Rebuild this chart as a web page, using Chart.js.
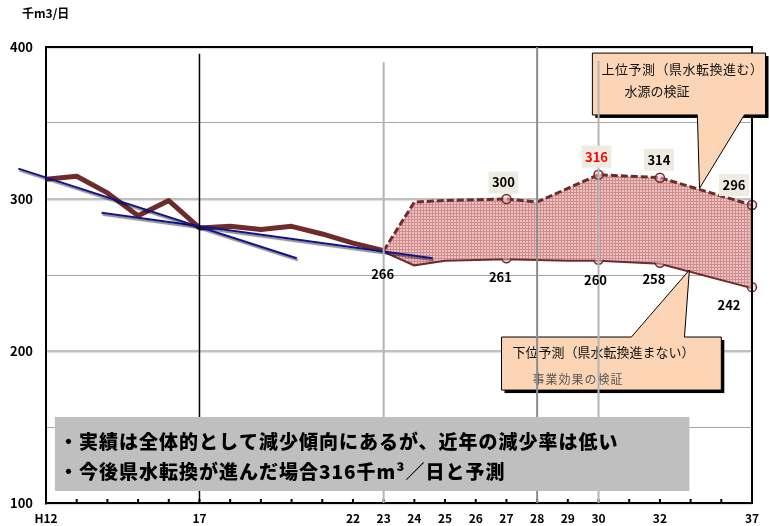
<!DOCTYPE html>
<html lang="ja">
<head>
<meta charset="UTF-8">
<title>水需要の実績と予測</title>
<script src="https://cdn.jsdelivr.net/npm/chart.js"></script>
<style>
  html, body { margin: 0; padding: 0; background: #fff; }
  .wrap { position: relative; width: 770px; height: 526px; }
</style>
</head>
<body>
<div class="wrap"><canvas id="demandChart" width="770" height="526"></canvas></div>
<script>
// 年度 (category index 0..23)
const yearLabels = ['H12','','','','','17','','','','','22','23','24','25','26','27','28','29','30','','32','','','37'];

// 実績 (千m3/日)
const actual = [313, 315, 304, 289, 299, 281, 282, 280, 282, 277, 271, 266];

// 上位予測 / 下位予測 (null = not read, line spans the gap)
const upperForecast = [null, null, null, null, null, null, null, null, null, null, null,
  266, 298, 299, 299.5, 300, 298, 307, 316, 315, 314, null, null, 296];
const lowerForecast = [null, null, null, null, null, null, null, null, null, null, null,
  266, 257, 260, 260.5, 261, 260.5, 260, 260, 259, 258, null, null, 242];

// indices that carry a marker + value label
const markedIdx = [15, 18, 20, 23];

// trend lines (index, value)
const trendLong = [[-0.9, 320], [8.17, 261]];
const trendShort = [[1.81, 291], [12.6, 261]];

const yTicks = { min: 100, max: 400, step: 50 };

const FONT = "'Noto Sans CJK JP', 'Liberation Sans', sans-serif";
const BROWN = '#6e2b2b';
const NAVY = '#12128a';

const toXY = arr => arr.map((v, i) => ({ x: i, y: v }));
const pairXY = arr => arr.map(p => ({ x: p[0], y: p[1] }));

// fine pink grid used for the forecast band
function makeHatch(ctx) {
  const c = document.createElement('canvas');
  c.width = 3; c.height = 3;
  const g = c.getContext('2d');
  g.fillStyle = '#efc2c2';
  g.fillRect(0, 0, 3, 3);
  g.fillStyle = '#cf8c8c';
  g.fillRect(0, 0, 3, 1);
  g.fillRect(0, 0, 1, 3);
  return ctx.createPattern(c, 'repeat');
}

const canvas = document.getElementById('demandChart');
const hatch = makeHatch(canvas.getContext('2d'));

// light drop shadow under the two trend lines
const trendShadow = {
  id: 'trendShadow',
  beforeDatasetDraw(chart, args) {
    if (!chart.data.datasets[args.index].isTrend) return;
    const ctx = chart.ctx;
    ctx.save();
    ctx.shadowColor = 'rgba(0,0,0,0.45)';
    ctx.shadowOffsetX = 1;
    ctx.shadowOffsetY = 2;
    ctx.shadowBlur = 1;
  },
  afterDatasetDraw(chart, args) {
    if (chart.data.datasets[args.index].isTrend) chart.ctx.restore();
  }
};

function callout(ctx, x, y, box, tail, up, lines) {
  const l = x.getPixelForValue(box[0]), r = x.getPixelForValue(box[1]);
  const t = y.getPixelForValue(box[2]), b = y.getPixelForValue(box[3]);
  const ta = x.getPixelForValue(tail[0]), tb = x.getPixelForValue(tail[1]);
  const tx = x.getPixelForValue(tail[2]), ty = y.getPixelForValue(tail[3]);
  ctx.save();
  // hard shadow, right and bottom
  ctx.fillStyle = '#000';
  ctx.fillRect(l + 3, t + 3, r - l, b - t);
  ctx.beginPath();
  if (up) {
    ctx.moveTo(l, t); ctx.lineTo(ta, t); ctx.lineTo(tx, ty); ctx.lineTo(tb, t);
    ctx.lineTo(r, t); ctx.lineTo(r, b); ctx.lineTo(l, b);
  } else {
    ctx.moveTo(l, t); ctx.lineTo(r, t); ctx.lineTo(r, b); ctx.lineTo(tb, b);
    ctx.lineTo(tx, ty); ctx.lineTo(ta, b); ctx.lineTo(l, b);
  }
  ctx.closePath();
  ctx.fillStyle = '#fbd5b5';
  ctx.fill();
  ctx.strokeStyle = '#000';
  ctx.lineWidth = 1;
  ctx.stroke();
  ctx.textBaseline = 'middle';
  ctx.textAlign = 'left';
  lines.forEach(s => {
    ctx.font = s.font;
    ctx.fillStyle = s.color;
    ctx.letterSpacing = s.spacing || '0px';
    ctx.fillText(s.text, l + s.dx, t + s.dy);
  });
  ctx.restore();
}

const overlay = {
  id: 'overlay',
  afterDatasetsDraw(chart) {
    const { ctx, chartArea: a, scales: { x, y } } = chart;
    ctx.save();

    // top and right frame
    ctx.strokeStyle = '#000';
    ctx.lineWidth = 2;
    ctx.beginPath();
    ctx.moveTo(a.left, a.top); ctx.lineTo(a.right, a.top); ctx.lineTo(a.right, a.bottom);
    ctx.stroke();

    // inward tick marks on the year axis
    ctx.lineWidth = 2;
    for (let i = 1; i < yearLabels.length; i++) {
      const px = x.getPixelForValue(i);
      ctx.beginPath(); ctx.moveTo(px, a.bottom); ctx.lineTo(px, a.bottom - 4); ctx.stroke();
    }

    // callouts
    callout(ctx, x, y, [17.8, 23.44, 396, 355.3], [21.22, 22.75, 21.29, 307], false, [
      { text: '上位予測（県水転換進む）', dx: 9, dy: 16, font: `13px ${FONT}`, color: '#111', spacing: '0.5px' },
      { text: '水源の検証', dx: 32, dy: 38, font: `13px ${FONT}`, color: '#111' }
    ]);
    callout(ctx, x, y, [14.84, 22.0, 209.2, 174.3], [19.07, 20.8, 20.96, 253.3], true, [
      { text: '下位予測（県水転換進まない）', dx: 11, dy: 15, font: `13px ${FONT}`, color: '#111' },
      { text: '事業効果の検証', dx: 31, dy: 42, font: `12px ${FONT}`, color: '#555', spacing: '1px' }
    ]);

    // vertical reference lines
    const refs = [
      { i: 5, top: 395.5, color: '#000', w: 1.5 },
      { i: 11, top: 390, color: '#b4b4b4', w: 2 },
      { i: 16, top: 400, color: '#8c8c8c', w: 2 },
      { i: 18, top: 391, color: '#b4b4b4', w: 2 }
    ];
    refs.forEach(r => {
      const px = x.getPixelForValue(r.i);
      ctx.strokeStyle = r.color;
      ctx.lineWidth = r.w;
      ctx.beginPath();
      ctx.moveTo(px, y.getPixelForValue(r.top));
      ctx.lineTo(px, a.bottom);
      ctx.stroke();
    });

    // summary note
    const nl = x.getPixelForValue(0.29), nr = x.getPixelForValue(20.96);
    const nt = y.getPixelForValue(156.6), nb = y.getPixelForValue(107.9);
    ctx.fillStyle = '#bfbfbf';
    ctx.fillRect(nl, nt, nr - nl, nb - nt);
    ctx.fillStyle = '#000';
    ctx.font = `900 19px ${FONT}`;
    ctx.letterSpacing = '1px';
    ctx.textAlign = 'left';
    ctx.textBaseline = 'middle';
    ctx.fillText('・実績は全体的として減少傾向にあるが、近年の減少率は低い', nl + 4, nt + 25);
    ctx.fillText('・今後県水転換が進んだ場合316千m³／日と予測', nl + 4, nt + 55);
    ctx.letterSpacing = '0px';

    // value labels
    ctx.textAlign = 'center';
    ctx.font = `bold 13px ${FONT}`;
    const lowOff = { 11: [-1, 23], 15: [-6, 19], 18: [-3, 20], 20: [-6, 16], 23: [-23, 18] };
    Object.keys(lowOff).forEach(k => {
      const i = +k;
      const px = x.getPixelForValue(i) + lowOff[k][0];
      const py = y.getPixelForValue(lowerForecast[i]) + lowOff[k][1];
      ctx.fillStyle = '#000';
      ctx.fillText(String(lowerForecast[i]), px, py);
    });
    const upOff = { 15: [-3, -16.5], 18: [-2, -18], 20: [-1, -18], 23: [-18, -20] };
    Object.keys(upOff).forEach(k => {
      const i = +k;
      const px = x.getPixelForValue(i) + upOff[k][0];
      const py = y.getPixelForValue(upperForecast[i]) + upOff[k][1];
      ctx.fillStyle = '#eeece1';
      ctx.fillRect(px - 15, py - 11, 30, 22);
      ctx.fillStyle = upperForecast[i] === 316 ? '#ff0000' : '#000';
      ctx.fillText(String(upperForecast[i]), px, py);
    });

    // unit
    ctx.textAlign = 'left';
    ctx.fillStyle = '#000';
    ctx.font = `bold 12px ${FONT}`;
    ctx.fillText('千m3/日', 22, 13);
    ctx.restore();
  }
};

const markerOpts = {
  pointRadius: c => markedIdx.includes(c.dataIndex) ? 4.5 : 0,
  pointBorderColor: BROWN,
  pointBorderWidth: 1.5,
  pointBackgroundColor: 'rgba(240,200,200,0.5)'
};

new Chart(canvas, {
  type: 'line',
  data: {
    datasets: [
      {
        label: '実績',
        data: toXY(actual),
        borderColor: BROWN,
        borderWidth: 5,
        pointRadius: 0,
        borderJoinStyle: 'round',
        order: 1
      },
      Object.assign({
        label: '上位予測',
        data: toXY(upperForecast),
        borderColor: BROWN,
        borderWidth: 3,
        borderDash: [7, 3],
        spanGaps: true,
        fill: { target: '+1' },
        backgroundColor: hatch,
        clip: false,
        order: 2
      }, markerOpts),
      Object.assign({
        label: '下位予測',
        data: toXY(lowerForecast),
        borderColor: BROWN,
        borderWidth: 4,
        spanGaps: true,
        clip: false,
        order: 2
      }, markerOpts),
      {
        label: 'trend1',
        isTrend: true,
        data: pairXY(trendLong),
        borderColor: NAVY,
        borderWidth: 2,
        pointRadius: 0,
        clip: false,
        order: 0
      },
      {
        label: 'trend2',
        isTrend: true,
        data: pairXY(trendShort),
        borderColor: NAVY,
        borderWidth: 2,
        pointRadius: 0,
        clip: false,
        order: 0
      }
    ]
  },
  options: {
    responsive: false,
    animation: false,
    events: [],
    layout: { padding: { top: 47, right: 18, left: 0, bottom: 0 } },
    plugins: { legend: { display: false }, tooltip: { enabled: false } },
    scales: {
      x: {
        type: 'linear',
        min: 0,
        max: yearLabels.length - 1,
        afterFit: s => { s.height = 23; },
        grid: { display: false, drawTicks: false },
        border: { color: '#000', width: 2 },
        ticks: {
          stepSize: 1,
          autoSkip: false,
          maxRotation: 0,
          padding: 8,
          color: '#000',
          font: { family: FONT, size: 12, weight: 'bold' },
          callback: v => yearLabels[v] ?? ''
        }
      },
      y: {
        min: yTicks.min,
        max: yTicks.max,
        afterFit: s => { s.width = 46; },
        grid: {
          drawTicks: false,
          color: c => c.tick.value % 100 === 0 ? '#c0c0c0' : '#a6a6a6',
          lineWidth: c => c.tick.value % 100 === 0 ? 2.5 : 1
        },
        border: { color: '#000', width: 2 },
        ticks: {
          stepSize: yTicks.step,
          padding: 13,
          color: '#000',
          font: { family: FONT, size: 13, weight: 'bold' },
          callback: v => v % 100 === 0 ? v : ''
        }
      }
    }
  },
  plugins: [trendShadow, overlay]
});
</script>
</body>
</html>
